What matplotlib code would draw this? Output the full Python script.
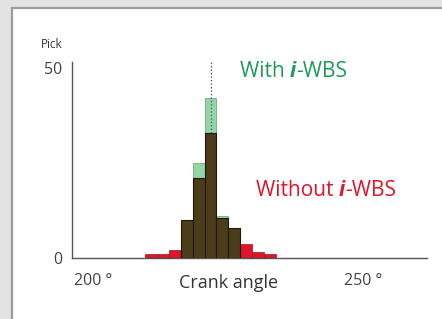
import matplotlib
matplotlib.use("Agg")
import matplotlib.pyplot as plt
import matplotlib.patches as patches
import matplotlib.transforms as mtransforms
import numpy as np

plt.rcParams['font.family'] = ['Open Sans', 'DejaVu Sans']

# Data (crank angle bin centres in degrees, pick counts)
angles = [211.6, 213.8, 216.0, 218.2, 220.4, 222.6, 224.8, 227.0, 229.2, 231.4, 233.6]
bin_width = 2.2
with_wbs = [0, 0, 0, 10, 25, 42, 11, 8, 0, 0, 0]
without_wbs = [1, 1, 2, 10, 21, 33, 10.5, 8, 3.7, 1.7, 1]
peak_angle = 222.6
x_ticks = [200, 250]
x_tick_labels = ["200 °", "250 °"]
y_ticks = [0, 50]
y_tick_labels = ["0", "50"]

RED = "#e0142a"
GREEN = "#93d6a6"
DARK = "#4b3c1a"
GREEN_TXT = "#1d9a5a"

W, H = 442, 319
fig = plt.figure(figsize=(W / 100, H / 100), dpi=100)
fig.patch.set_facecolor("#e3e3e3")
panel = patches.Rectangle((12 / W, -0.1), 1.2, (H - 8) / H + 0.1,
                          transform=fig.transFigure, facecolor="white",
                          edgecolor="#9c9c9c", linewidth=1.6, zorder=-1)
fig.patches.append(panel)

ax = fig.add_axes([72 / W, 1 - 258 / H, (427 - 72) / W, (258 - 62) / H])
ax.set_zorder(2)
ax.set_facecolor("none")
ax.set_xlim(196.94, 262.7)
ax.set_ylim(0, 51.6)

ang = np.array(angles)
w = np.array(with_wbs, dtype=float)
wo = np.array(without_wbs, dtype=float)
overlap = np.minimum(w, wo)

ax.bar(ang, wo, width=bin_width, color=RED, edgecolor="#9a1818", linewidth=0.5, zorder=2)
ax.bar(ang, w, width=bin_width, color=GREEN, edgecolor="#6a9a70", linewidth=0.5, zorder=3)
ax.plot([peak_angle, peak_angle], [0, 51.6], linestyle=(0, (1, 1.5)), color="#4a5a9a",
        linewidth=1.0, zorder=4)
ax.bar(ang, overlap, width=bin_width, color=DARK, edgecolor="#1e1608", linewidth=0.8, zorder=5)

for s in ["top", "right"]:
    ax.spines[s].set_visible(False)
for s in ["left", "bottom"]:
    ax.spines[s].set_color("#555555")
    ax.spines[s].set_linewidth(1.0)

ax.set_xticks(x_ticks, x_tick_labels)
ax.set_yticks(y_ticks, y_tick_labels)
ax.tick_params(axis="both", length=0, colors="#444444", labelsize=11.5)
ax.tick_params(axis="x", pad=11)
ax.tick_params(axis="y", pad=7)
offset = mtransforms.ScaledTranslation(4.5 / 100, 0, fig.dpi_scale_trans)
for lab in ax.get_xticklabels():
    lab.set_transform(lab.get_transform() + offset)

fig.text(229 / W, 1 - 283 / H, "Crank angle", ha="center", va="center",
         fontsize=13, color="#333333", zorder=3)
fig.text(41 / W, 1 - 44 / H, "Pick", ha="left", va="center", fontsize=8.5,
         color="#333333", zorder=3)


def rich(x, y, parts, color, size):
    prev = None
    for txt, wt, st in parts:
        if prev is None:
            prev = fig.text(x, y, txt, ha="left", va="baseline", fontsize=size, color=color,
                            fontweight=wt, fontstyle=st, zorder=3)
        else:
            prev = ax.annotate(txt, xy=(1, 0), xycoords=prev, ha="left", va="bottom",
                               fontsize=size, color=color, fontweight=wt, fontstyle=st,
                               annotation_clip=False, zorder=3)
    return prev


rich(240 / W, 1 - 77 / H, [("With ", "normal", "normal"), ("i", "bold", "italic"),
                           ("-WBS", "normal", "normal")], GREEN_TXT, 15)
rich(256 / W, 1 - 196 / H, [("Without ", "normal", "normal"), ("i", "bold", "italic"),
                            ("-WBS", "normal", "normal")], RED, 15)

fig.savefig("out.png", dpi=100, facecolor=fig.get_facecolor())
